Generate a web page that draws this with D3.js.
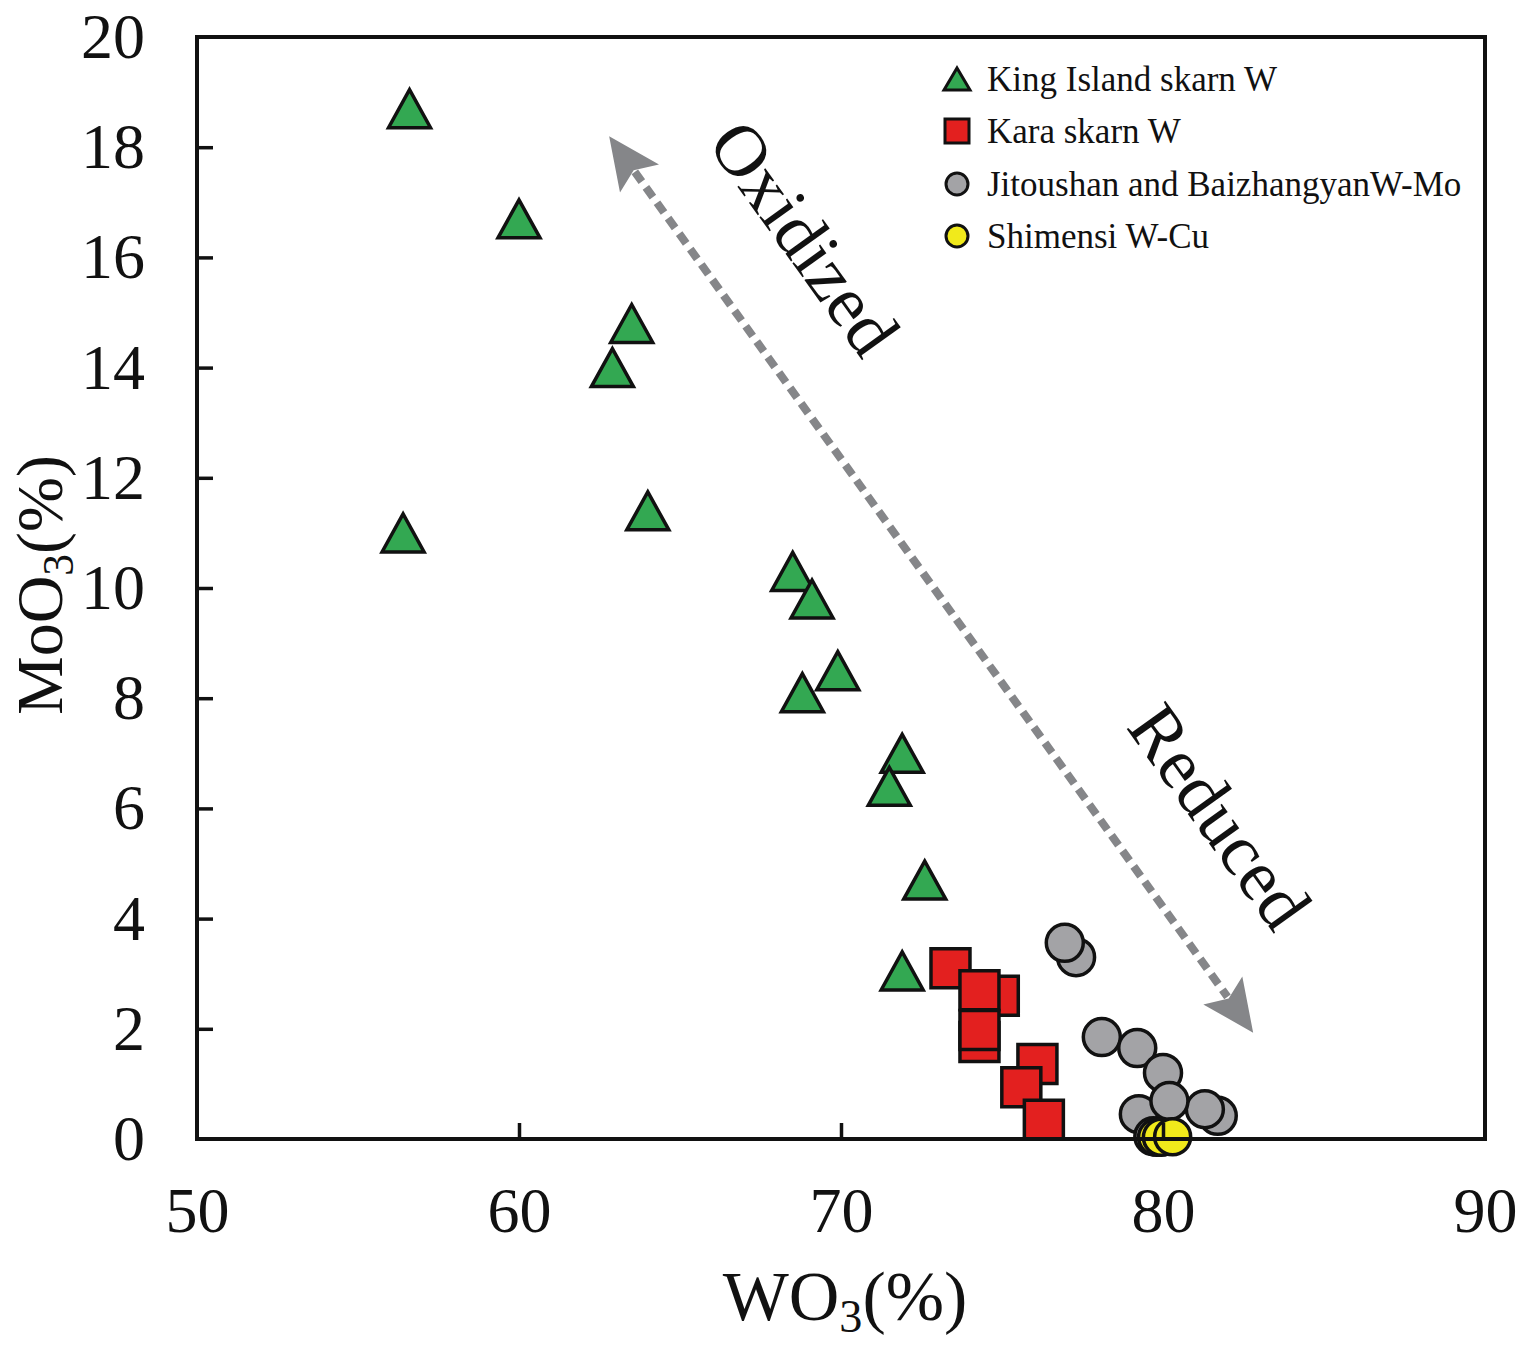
<!DOCTYPE html>
<html>
<head>
<meta charset="utf-8">
<script src="https://cdn.jsdelivr.net/npm/d3@7"></script>
<style>
  body { margin: 0; background: #fff; }
  text { font-family: "Liberation Serif", "Times New Roman", serif; fill: #111; }
</style>
</head>
<body>
<div id="chart"></div>
<script>
// WO3 (%) and MoO3 (%)
const kingIslandWO3 = [56.6, 60.0, 63.5, 62.9, 64.0, 56.4, 68.5, 69.1, 69.9, 68.8, 71.9, 71.5, 72.6, 71.9];
const kingIslandMoO3 = [18.7, 16.7, 14.8, 14.0, 11.4, 11.0, 10.3, 9.8, 8.5, 8.1, 7.0, 6.4, 4.7, 3.05];

const karaWO3 = [73.4, 74.9, 74.3, 74.3, 74.3, 76.1, 75.6, 76.3];
const karaMoO3 = [3.1, 2.6, 2.7, 1.76, 1.98, 1.36, 0.94, 0.35];

const jitoushanWO3 = [77.3, 76.95, 78.1, 79.2, 80.0, 79.25, 79.7, 81.7, 81.3, 80.2];
const jitoushanMoO3 = [3.3, 3.56, 1.85, 1.65, 1.2, 0.45, 0.05, 0.42, 0.54, 0.69];

const shimensiWO3 = [79.8, 79.95, 80.3];
const shimensiMoO3 = [0.03, 0.03, 0.04];

const xTicks = [50, 60, 70, 80, 90];
const yTicks = [0, 2, 4, 6, 8, 10, 12, 14, 16, 18, 20];

// arrow from "Oxidized" end to "Reduced" end, both heads drawn
const arrowWO3 = [62.8, 82.8];
const arrowMoO3 = [18.2, 1.93];

const legendLabels = ["King Island skarn W", "Kara skarn W", "Jitoushan and BaizhangyanW-Mo", "Shimensi W-Cu"];

const W = 1519, H = 1346;
const margin = { top: 37, right: 34, bottom: 207, left: 197 };
const width = W - margin.left - margin.right;
const height = H - margin.top - margin.bottom;

const colors = { tri: "#33a852", sq: "#e3201f", gray: "#a3a3a6", yel: "#f1ea1b", arrow: "#858689" };

const svg = d3.select("#chart").append("svg")
  .attr("width", W).attr("height", H);

const g = svg.append("g").attr("transform", `translate(${margin.left},${margin.top})`);

const x = d3.scaleLinear().domain([50, 90]).range([0, width]);
const y = d3.scaleLinear().domain([0, 20]).range([height, 0]);

// marker shapes
function triPath(w, h) {
  return `M0,${-h / 2}L${w / 2},${h / 2}L${-w / 2},${h / 2}Z`;
}
function sqPath(s) {
  return `M${-s / 2},${-s / 2}h${s}v${s}h${-s}Z`;
}

// arrow (dashed shaft + two heads)
const ax0 = x(arrowWO3[0]), ay0 = y(arrowMoO3[0]);
const ax1 = x(arrowWO3[1]), ay1 = y(arrowMoO3[1]);
const ang = Math.atan2(ay1 - ay0, ax1 - ax0);
const headLen = 52, headW = 48;
const ux = Math.cos(ang), uy = Math.sin(ang);
g.append("line")
  .attr("x1", ax0 + ux * (headLen - 8)).attr("y1", ay0 + uy * (headLen - 8))
  .attr("x2", ax1 - ux * (headLen - 8)).attr("y2", ay1 - uy * (headLen - 8))
  .attr("stroke", colors.arrow).attr("stroke-width", 8)
  .attr("stroke-dasharray", "12,7");
function head(tx, ty, dir) {
  const bx = tx - dir * ux * headLen, by = ty - dir * uy * headLen;
  const px = -uy * headW / 2, py = ux * headW / 2;
  return `M${tx},${ty}L${bx + px},${by + py}L${bx + dir * ux * 10},${by + dir * uy * 10}L${bx - px},${by - py}Z`;
}
g.append("path").attr("d", head(ax0, ay0, -1)).attr("fill", colors.arrow);
g.append("path").attr("d", head(ax1, ay1, 1)).attr("fill", colors.arrow);

const angDeg = ang * 180 / Math.PI;
const notes = [
  { text: "Oxidized", wo3: 68.85, moo3: 16.35 },
  { text: "Reduced", wo3: 81.75, moo3: 5.85 }
];
g.selectAll(".note").data(notes).enter().append("text")
  .attr("class", "note")
  .attr("transform", d => `translate(${x(d.wo3)},${y(d.moo3)}) rotate(${angDeg})`)
  .attr("text-anchor", "middle")
  .attr("dy", "0.33em")
  .style("font-size", "73px")
  .text(d => d.text);

// data points
const stroke = "#111", sw = 3.5;
g.selectAll(".tri").data(d3.zip(kingIslandWO3, kingIslandMoO3)).enter().append("path")
  .attr("transform", d => `translate(${x(d[0])},${y(d[1])})`)
  .attr("d", triPath(42, 38))
  .attr("fill", colors.tri).attr("stroke", stroke).attr("stroke-width", sw)
  .attr("stroke-linejoin", "miter");

g.selectAll(".sq").data(d3.zip(karaWO3, karaMoO3)).enter().append("path")
  .attr("transform", d => `translate(${x(d[0])},${y(d[1])})`)
  .attr("d", sqPath(39))
  .attr("fill", colors.sq).attr("stroke", stroke).attr("stroke-width", sw);

g.selectAll(".gc").data(d3.zip(jitoushanWO3, jitoushanMoO3)).enter().append("circle")
  .attr("cx", d => x(d[0])).attr("cy", d => y(d[1])).attr("r", 18.5)
  .attr("fill", colors.gray).attr("stroke", stroke).attr("stroke-width", sw);

g.selectAll(".yc").data(d3.zip(shimensiWO3, shimensiMoO3)).enter().append("circle")
  .attr("cx", d => x(d[0])).attr("cy", d => y(d[1])).attr("r", 18)
  .attr("fill", colors.yel).attr("stroke", stroke).attr("stroke-width", sw);

// frame
g.append("rect").attr("width", width).attr("height", height)
  .attr("fill", "none").attr("stroke", "#111").attr("stroke-width", 4);

// axes with inward ticks
const xAxis = g.append("g").attr("transform", `translate(0,${height})`)
  .call(d3.axisBottom(x).tickValues(xTicks).tickSizeInner(-16).tickSizeOuter(0).tickPadding(48));
const yAxis = g.append("g")
  .call(d3.axisLeft(y).tickValues(yTicks).tickSizeInner(-16).tickSizeOuter(0).tickPadding(52));
[xAxis, yAxis].forEach(a => {
  a.select(".domain").remove();
  a.selectAll(".tick line").attr("stroke", "#111").attr("stroke-width", 3.5);
  a.selectAll(".tick text").style("font-size", "64px")
    .style("font-family", '"Liberation Serif", "Times New Roman", serif').attr("fill", "#111");
});
xAxis.selectAll(".tick line").filter(d => d === 50 || d === 90).remove();
yAxis.selectAll(".tick line").filter(d => d === 0 || d === 20).remove();

// axis titles: main part, subscript 3, "(%)" laid out as separate texts
function axisTitle(parent, main, size) {
  const t1 = parent.append("text").style("font-size", size + "px").text(main);
  const w1 = t1.node().getComputedTextLength();
  const sub = parent.append("text").attr("x", w1).attr("y", size * 0.17)
    .style("font-size", (size * 0.66) + "px").text("3");
  const w2 = sub.node().getComputedTextLength();
  const t3 = parent.append("text").attr("x", w1 + w2).style("font-size", size + "px").text("(%)");
  const total = w1 + w2 + t3.node().getComputedTextLength();
  parent.selectAll("text").attr("transform", `translate(${-total / 2},0)`);
}
axisTitle(svg.append("g").attr("transform", `translate(${margin.left + width / 2 + 4},1320)`), "WO", 70);
axisTitle(svg.append("g").attr("transform", "translate(62,585) rotate(-90)"), "MoO", 66);

// legend
const legend = svg.append("g").attr("transform", "translate(957,79)");
const rowH = 52;
const items = legend.selectAll(".item").data(legendLabels).enter().append("g")
  .attr("transform", (d, i) => `translate(0,${i * rowH + (i > 1 ? 1 : 0)})`);
items.each(function (d, i) {
  const s = d3.select(this);
  if (i === 0) s.append("path").attr("d", triPath(26, 22)).attr("fill", colors.tri).attr("stroke", stroke).attr("stroke-width", 3);
  if (i === 1) s.append("path").attr("d", sqPath(24)).attr("fill", colors.sq).attr("stroke", stroke).attr("stroke-width", 3);
  if (i === 2) s.append("circle").attr("r", 11).attr("fill", colors.gray).attr("stroke", stroke).attr("stroke-width", 3);
  if (i === 3) s.append("circle").attr("r", 11).attr("fill", colors.yel).attr("stroke", stroke).attr("stroke-width", 3);
});
items.append("text").attr("x", 30).attr("dy", "0.33em")
  .style("font-size", "35px").text(d => d);
</script>
</body>
</html>
